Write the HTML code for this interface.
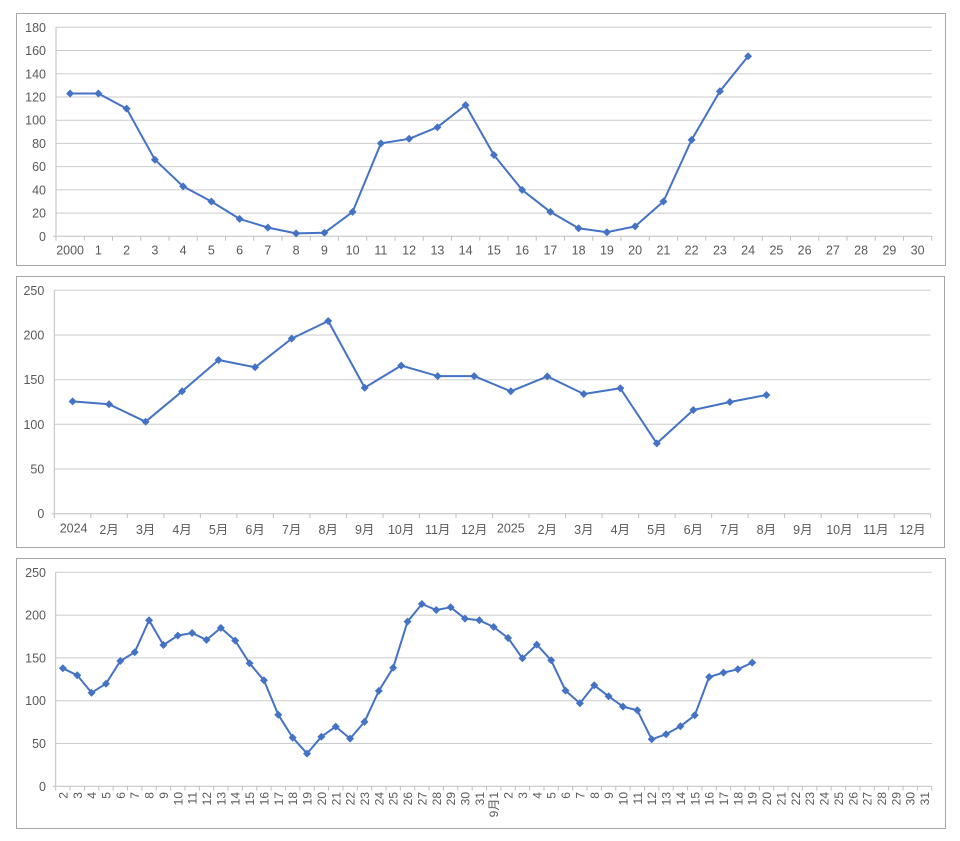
<!DOCTYPE html>
<html><head><meta charset="utf-8"><style>
html,body{margin:0;padding:0;background:#fff;}
svg{display:block;}
text{font-family:"Liberation Sans","Noto Sans CJK SC",sans-serif;fill:#595959;}
</style></head><body>
<svg width="960" height="841" viewBox="0 0 960 841" xmlns="http://www.w3.org/2000/svg">
<defs><path id="d" d="M0,-4L4,0L0,4L-4,0Z" fill="#4472C4"/></defs>
<rect x="0" y="0" width="960" height="841" fill="#fff"/>

<!-- ============ CHART 1 ============ -->
<rect x="16.5" y="13.5" width="929" height="252" fill="#fff" stroke="#a6a6a6" stroke-width="1"/>
<g stroke="#cbcbcb" stroke-width="1">
<line x1="56" y1="213.1" x2="931.7" y2="213.1"/><line x1="56" y1="189.9" x2="931.7" y2="189.9"/>
<line x1="56" y1="166.6" x2="931.7" y2="166.6"/><line x1="56" y1="143.4" x2="931.7" y2="143.4"/>
<line x1="56" y1="120.2" x2="931.7" y2="120.2"/><line x1="56" y1="97.0" x2="931.7" y2="97.0"/>
<line x1="56" y1="73.8" x2="931.7" y2="73.8"/><line x1="56" y1="50.5" x2="931.7" y2="50.5"/>
<line x1="56" y1="27.3" x2="931.7" y2="27.3"/>
</g>
<g stroke="#bfbfbf" stroke-width="1">
<line x1="56" y1="27.3" x2="56" y2="236.3"/>
<line x1="53" y1="236.3" x2="931.7" y2="236.3"/>
<path d="M56,236.3v4.3M84.25,236.3v4.3M112.5,236.3v4.3M140.75,236.3v4.3M169,236.3v4.3M197.25,236.3v4.3M225.5,236.3v4.3M253.75,236.3v4.3M282,236.3v4.3M310.25,236.3v4.3M338.5,236.3v4.3M366.75,236.3v4.3M395,236.3v4.3M423.25,236.3v4.3M451.5,236.3v4.3M479.75,236.3v4.3M508,236.3v4.3M536.25,236.3v4.3M564.5,236.3v4.3M592.75,236.3v4.3M621,236.3v4.3M649.25,236.3v4.3M677.5,236.3v4.3M705.75,236.3v4.3M734,236.3v4.3M762.25,236.3v4.3M790.5,236.3v4.3M818.75,236.3v4.3M847,236.3v4.3M875.25,236.3v4.3M903.5,236.3v4.3M931.75,236.3v4.3" fill="none"/>
</g>
<g font-size="12.5" text-anchor="end">
<text x="46" y="240.8">0</text><text x="46" y="217.6">20</text><text x="46" y="194.4">40</text>
<text x="46" y="171.1">60</text><text x="46" y="147.9">80</text><text x="46" y="124.7">100</text>
<text x="46" y="101.5">120</text><text x="46" y="78.3">140</text><text x="46" y="55.0">160</text>
<text x="46" y="31.8">180</text>
</g>
<g font-size="12.5" text-anchor="middle">
<text x="70.1" y="254.5">2000</text><text x="98.4" y="254.5">1</text><text x="126.6" y="254.5">2</text>
<text x="154.9" y="254.5">3</text><text x="183.1" y="254.5">4</text><text x="211.4" y="254.5">5</text>
<text x="239.6" y="254.5">6</text><text x="267.9" y="254.5">7</text><text x="296.1" y="254.5">8</text>
<text x="324.4" y="254.5">9</text><text x="352.6" y="254.5">10</text><text x="380.9" y="254.5">11</text>
<text x="409.1" y="254.5">12</text><text x="437.4" y="254.5">13</text><text x="465.6" y="254.5">14</text>
<text x="493.9" y="254.5">15</text><text x="522.1" y="254.5">16</text><text x="550.4" y="254.5">17</text>
<text x="578.6" y="254.5">18</text><text x="606.9" y="254.5">19</text><text x="635.1" y="254.5">20</text>
<text x="663.4" y="254.5">21</text><text x="691.6" y="254.5">22</text><text x="719.9" y="254.5">23</text>
<text x="748.1" y="254.5">24</text><text x="776.4" y="254.5">25</text><text x="804.6" y="254.5">26</text>
<text x="832.9" y="254.5">27</text><text x="861.1" y="254.5">28</text><text x="889.4" y="254.5">29</text>
<text x="917.6" y="254.5">30</text>
</g>
<polyline fill="none" stroke="#4472C4" stroke-width="2" stroke-linejoin="round" points="70.1,93.5 98.4,93.5 126.6,108.6 154.9,159.7 183.1,186.4 211.4,201.5 239.6,218.9 267.9,227.6 296.1,233.4 324.4,232.8 352.6,211.9 380.9,143.4 409.1,138.8 437.4,127.2 465.6,105.1 493.9,155.0 522.1,189.9 550.4,211.9 578.6,228.2 606.9,232.2 635.1,226.4 663.4,201.5 691.6,139.9 719.9,91.2 748.1,56.3"/>
<g>
<use href="#d" x="70.1" y="93.5"/><use href="#d" x="98.4" y="93.5"/><use href="#d" x="126.6" y="108.6"/>
<use href="#d" x="154.9" y="159.7"/><use href="#d" x="183.1" y="186.4"/><use href="#d" x="211.4" y="201.5"/>
<use href="#d" x="239.6" y="218.9"/><use href="#d" x="267.9" y="227.6"/><use href="#d" x="296.1" y="233.4"/>
<use href="#d" x="324.4" y="232.8"/><use href="#d" x="352.6" y="211.9"/><use href="#d" x="380.9" y="143.4"/>
<use href="#d" x="409.1" y="138.8"/><use href="#d" x="437.4" y="127.2"/><use href="#d" x="465.6" y="105.1"/>
<use href="#d" x="493.9" y="155.0"/><use href="#d" x="522.1" y="189.9"/><use href="#d" x="550.4" y="211.9"/>
<use href="#d" x="578.6" y="228.2"/><use href="#d" x="606.9" y="232.2"/><use href="#d" x="635.1" y="226.4"/>
<use href="#d" x="663.4" y="201.5"/><use href="#d" x="691.6" y="139.9"/><use href="#d" x="719.9" y="91.2"/>
<use href="#d" x="748.1" y="56.3"/>
</g>

<!-- ============ CHART 2 ============ -->
<rect x="16.5" y="276.5" width="928" height="271" fill="#fff" stroke="#a6a6a6" stroke-width="1"/>
<g stroke="#cbcbcb" stroke-width="1">
<line x1="54.3" y1="469.0" x2="930.7" y2="469.0"/><line x1="54.3" y1="424.3" x2="930.7" y2="424.3"/>
<line x1="54.3" y1="379.7" x2="930.7" y2="379.7"/><line x1="54.3" y1="335.0" x2="930.7" y2="335.0"/>
<line x1="54.3" y1="290.3" x2="930.7" y2="290.3"/>
</g>
<g stroke="#bfbfbf" stroke-width="1">
<line x1="54.3" y1="290.3" x2="54.3" y2="513.7"/>
<line x1="51.5" y1="513.7" x2="930.7" y2="513.7"/>
<path d="M54.3,513.7v4.3M90.8,513.7v4.3M127.3,513.7v4.3M163.9,513.7v4.3M200.4,513.7v4.3M236.9,513.7v4.3M273.4,513.7v4.3M309.9,513.7v4.3M346.4,513.7v4.3M383.0,513.7v4.3M419.5,513.7v4.3M456.0,513.7v4.3M492.5,513.7v4.3M529.0,513.7v4.3M565.5,513.7v4.3M602.1,513.7v4.3M638.6,513.7v4.3M675.1,513.7v4.3M711.6,513.7v4.3M748.1,513.7v4.3M784.6,513.7v4.3M821.2,513.7v4.3M857.7,513.7v4.3M894.2,513.7v4.3M930.7,513.7v4.3" fill="none"/>
</g>
<g font-size="12.5" text-anchor="end">
<text x="44.3" y="518.2">0</text><text x="44.3" y="473.5">50</text><text x="44.3" y="428.8">100</text>
<text x="44.3" y="384.2">150</text><text x="44.3" y="339.5">200</text><text x="44.3" y="294.8">250</text>
</g>
<g font-size="12.5" text-anchor="middle">
<text x="73.6" y="532.5">2024</text><text x="109.1" y="534">2月</text><text x="145.6" y="534">3月</text>
<text x="182.1" y="534">4月</text><text x="218.6" y="534">5月</text><text x="255.1" y="534">6月</text>
<text x="291.7" y="534">7月</text><text x="328.2" y="534">8月</text><text x="364.7" y="534">9月</text>
<text x="401.2" y="534">10月</text><text x="437.7" y="534">11月</text><text x="474.2" y="534">12月</text>
<text x="510.8" y="532.5">2025</text><text x="547.3" y="534">2月</text><text x="583.8" y="534">3月</text>
<text x="620.3" y="534">4月</text><text x="656.8" y="534">5月</text><text x="693.3" y="534">6月</text>
<text x="729.9" y="534">7月</text><text x="766.4" y="534">8月</text><text x="802.9" y="534">9月</text>
<text x="839.4" y="534">10月</text><text x="875.9" y="534">11月</text><text x="912.4" y="534">12月</text>
</g>
<polyline fill="none" stroke="#4472C4" stroke-width="2" stroke-linejoin="round" points="72.6,401.4 109.1,404.3 145.6,421.7 182.1,391.3 218.6,360.0 255.1,367.3 291.7,338.6 328.2,321.0 364.7,387.7 401.2,365.6 437.7,376.1 474.2,376.1 510.8,391.3 547.3,376.4 583.8,394.0 620.3,388.3 656.8,443.4 693.3,410.0 729.9,402.0 766.4,395.0"/>
<g>
<use href="#d" x="72.6" y="401.4"/><use href="#d" x="109.1" y="404.3"/><use href="#d" x="145.6" y="421.7"/>
<use href="#d" x="182.1" y="391.3"/><use href="#d" x="218.6" y="360.0"/><use href="#d" x="255.1" y="367.3"/>
<use href="#d" x="291.7" y="338.6"/><use href="#d" x="328.2" y="321.0"/><use href="#d" x="364.7" y="387.7"/>
<use href="#d" x="401.2" y="365.6"/><use href="#d" x="437.7" y="376.1"/><use href="#d" x="474.2" y="376.1"/>
<use href="#d" x="510.8" y="391.3"/><use href="#d" x="547.3" y="376.4"/><use href="#d" x="583.8" y="394.0"/>
<use href="#d" x="620.3" y="388.3"/><use href="#d" x="656.8" y="443.4"/><use href="#d" x="693.3" y="410.0"/>
<use href="#d" x="729.9" y="402.0"/><use href="#d" x="766.4" y="395.0"/>
</g>

<!-- ============ CHART 3 ============ -->
<rect x="16.5" y="558.5" width="929" height="270" fill="#fff" stroke="#a6a6a6" stroke-width="1"/>
<g stroke="#cbcbcb" stroke-width="1">
<line x1="55.7" y1="743.5" x2="931.7" y2="743.5"/><line x1="55.7" y1="700.7" x2="931.7" y2="700.7"/>
<line x1="55.7" y1="657.9" x2="931.7" y2="657.9"/><line x1="55.7" y1="615.1" x2="931.7" y2="615.1"/>
<line x1="55.7" y1="572.3" x2="931.7" y2="572.3"/>
</g>
<g stroke="#bfbfbf" stroke-width="1">
<line x1="55.7" y1="572.3" x2="55.7" y2="786.3"/>
<line x1="52.7" y1="786.3" x2="931.7" y2="786.3"/>
<path d="M55.70,786.3v4.3M70.06,786.3v4.3M84.42,786.3v4.3M98.78,786.3v4.3M113.14,786.3v4.3M127.51,786.3v4.3M141.87,786.3v4.3M156.23,786.3v4.3M170.59,786.3v4.3M184.95,786.3v4.3M199.31,786.3v4.3M213.67,786.3v4.3M228.03,786.3v4.3M242.39,786.3v4.3M256.75,786.3v4.3M271.12,786.3v4.3M285.48,786.3v4.3M299.84,786.3v4.3M314.20,786.3v4.3M328.56,786.3v4.3M342.92,786.3v4.3M357.28,786.3v4.3M371.64,786.3v4.3M386.00,786.3v4.3M400.36,786.3v4.3M414.73,786.3v4.3M429.09,786.3v4.3M443.45,786.3v4.3M457.81,786.3v4.3M472.17,786.3v4.3M486.53,786.3v4.3M500.89,786.3v4.3M515.25,786.3v4.3M529.61,786.3v4.3M543.97,786.3v4.3M558.34,786.3v4.3M572.70,786.3v4.3M587.06,786.3v4.3M601.42,786.3v4.3M615.78,786.3v4.3M630.14,786.3v4.3M644.50,786.3v4.3M658.86,786.3v4.3M673.22,786.3v4.3M687.58,786.3v4.3M701.95,786.3v4.3M716.31,786.3v4.3M730.67,786.3v4.3M745.03,786.3v4.3M759.39,786.3v4.3M773.75,786.3v4.3M788.11,786.3v4.3M802.47,786.3v4.3M816.83,786.3v4.3M831.19,786.3v4.3M845.56,786.3v4.3M859.92,786.3v4.3M874.28,786.3v4.3M888.64,786.3v4.3M903.00,786.3v4.3M917.36,786.3v4.3M931.72,786.3v4.3" fill="none"/>
</g>
<g font-size="12.5" text-anchor="end">
<text x="46" y="790.8">0</text><text x="46" y="748.0">50</text><text x="46" y="705.2">100</text>
<text x="46" y="662.4">150</text><text x="46" y="619.6">200</text><text x="46" y="576.8">250</text>
</g>
<g font-size="12" text-anchor="end">
<text transform="translate(67.4,792) rotate(-90)">2</text>
<text transform="translate(81.8,792) rotate(-90)">3</text>
<text transform="translate(96.1,792) rotate(-90)">4</text>
<text transform="translate(110.5,792) rotate(-90)">5</text>
<text transform="translate(124.8,792) rotate(-90)">6</text>
<text transform="translate(139.2,792) rotate(-90)">7</text>
<text transform="translate(153.6,792) rotate(-90)">8</text>
<text transform="translate(167.9,792) rotate(-90)">9</text>
<text transform="translate(182.3,792) rotate(-90)">10</text>
<text transform="translate(196.7,792) rotate(-90)">11</text>
<text transform="translate(211.0,792) rotate(-90)">12</text>
<text transform="translate(225.4,792) rotate(-90)">13</text>
<text transform="translate(239.7,792) rotate(-90)">14</text>
<text transform="translate(254.1,792) rotate(-90)">15</text>
<text transform="translate(268.5,792) rotate(-90)">16</text>
<text transform="translate(282.8,792) rotate(-90)">17</text>
<text transform="translate(297.2,792) rotate(-90)">18</text>
<text transform="translate(311.5,792) rotate(-90)">19</text>
<text transform="translate(325.9,792) rotate(-90)">20</text>
<text transform="translate(340.3,792) rotate(-90)">21</text>
<text transform="translate(354.6,792) rotate(-90)">22</text>
<text transform="translate(369.0,792) rotate(-90)">23</text>
<text transform="translate(383.3,792) rotate(-90)">24</text>
<text transform="translate(397.7,792) rotate(-90)">25</text>
<text transform="translate(412.1,792) rotate(-90)">26</text>
<text transform="translate(426.4,792) rotate(-90)">27</text>
<text transform="translate(440.8,792) rotate(-90)">28</text>
<text transform="translate(455.2,792) rotate(-90)">29</text>
<text transform="translate(469.5,792) rotate(-90)">30</text>
<text transform="translate(483.9,792) rotate(-90)">31</text>
<text transform="translate(498.2,792) rotate(-90)">9月1</text>
<text transform="translate(512.6,792) rotate(-90)">2</text>
<text transform="translate(527.0,792) rotate(-90)">3</text>
<text transform="translate(541.3,792) rotate(-90)">4</text>
<text transform="translate(555.7,792) rotate(-90)">5</text>
<text transform="translate(570.0,792) rotate(-90)">6</text>
<text transform="translate(584.4,792) rotate(-90)">7</text>
<text transform="translate(598.8,792) rotate(-90)">8</text>
<text transform="translate(613.1,792) rotate(-90)">9</text>
<text transform="translate(627.5,792) rotate(-90)">10</text>
<text transform="translate(641.8,792) rotate(-90)">11</text>
<text transform="translate(656.2,792) rotate(-90)">12</text>
<text transform="translate(670.6,792) rotate(-90)">13</text>
<text transform="translate(684.9,792) rotate(-90)">14</text>
<text transform="translate(699.3,792) rotate(-90)">15</text>
<text transform="translate(713.7,792) rotate(-90)">16</text>
<text transform="translate(728.0,792) rotate(-90)">17</text>
<text transform="translate(742.4,792) rotate(-90)">18</text>
<text transform="translate(756.7,792) rotate(-90)">19</text>
<text transform="translate(771.1,792) rotate(-90)">20</text>
<text transform="translate(785.5,792) rotate(-90)">21</text>
<text transform="translate(799.8,792) rotate(-90)">22</text>
<text transform="translate(814.2,792) rotate(-90)">23</text>
<text transform="translate(828.5,792) rotate(-90)">24</text>
<text transform="translate(842.9,792) rotate(-90)">25</text>
<text transform="translate(857.3,792) rotate(-90)">26</text>
<text transform="translate(871.6,792) rotate(-90)">27</text>
<text transform="translate(886.0,792) rotate(-90)">28</text>
<text transform="translate(900.3,792) rotate(-90)">29</text>
<text transform="translate(914.7,792) rotate(-90)">30</text>
<text transform="translate(929.1,792) rotate(-90)">31</text>
</g>
<polyline fill="none" stroke="#4472C4" stroke-width="2" stroke-linejoin="round" points="62.88,668.3 77.24,675.3 91.60,692.7 105.96,683.7 120.32,661.0 134.69,652.3 149.05,620.3 163.41,645.0 177.77,635.6 192.13,633.0 206.49,639.9 220.85,627.9 235.21,640.6 249.57,663.3 263.93,680.3 278.30,714.7 292.66,737.6 307.02,753.6 321.38,736.7 335.74,726.6 350.10,738.6 364.46,721.9 378.82,690.9 393.18,667.7 407.54,621.6 421.91,604.0 436.27,610.0 450.63,607.3 464.99,618.6 479.35,620.3 493.71,627.0 508.07,638.0 522.43,658.3 536.79,644.6 551.15,660.3 565.52,690.6 579.88,703.3 594.24,685.3 608.60,696.3 622.96,706.6 637.32,710.3 651.68,739.3 666.04,734.3 680.40,726.3 694.76,715.3 709.12,677.0 723.49,672.6 737.85,669.3 752.21,662.6"/>
<g>
<use href="#d" x="62.88" y="668.3"/><use href="#d" x="77.24" y="675.3"/><use href="#d" x="91.60" y="692.7"/>
<use href="#d" x="105.96" y="683.7"/><use href="#d" x="120.32" y="661.0"/><use href="#d" x="134.69" y="652.3"/>
<use href="#d" x="149.05" y="620.3"/><use href="#d" x="163.41" y="645.0"/><use href="#d" x="177.77" y="635.6"/>
<use href="#d" x="192.13" y="633.0"/><use href="#d" x="206.49" y="639.9"/><use href="#d" x="220.85" y="627.9"/>
<use href="#d" x="235.21" y="640.6"/><use href="#d" x="249.57" y="663.3"/><use href="#d" x="263.93" y="680.3"/>
<use href="#d" x="278.30" y="714.7"/><use href="#d" x="292.66" y="737.6"/><use href="#d" x="307.02" y="753.6"/>
<use href="#d" x="321.38" y="736.7"/><use href="#d" x="335.74" y="726.6"/><use href="#d" x="350.10" y="738.6"/>
<use href="#d" x="364.46" y="721.9"/><use href="#d" x="378.82" y="690.9"/><use href="#d" x="393.18" y="667.7"/>
<use href="#d" x="407.54" y="621.6"/><use href="#d" x="421.91" y="604.0"/><use href="#d" x="436.27" y="610.0"/>
<use href="#d" x="450.63" y="607.3"/><use href="#d" x="464.99" y="618.6"/><use href="#d" x="479.35" y="620.3"/>
<use href="#d" x="493.71" y="627.0"/><use href="#d" x="508.07" y="638.0"/><use href="#d" x="522.43" y="658.3"/>
<use href="#d" x="536.79" y="644.6"/><use href="#d" x="551.15" y="660.3"/><use href="#d" x="565.52" y="690.6"/>
<use href="#d" x="579.88" y="703.3"/><use href="#d" x="594.24" y="685.3"/><use href="#d" x="608.60" y="696.3"/>
<use href="#d" x="622.96" y="706.6"/><use href="#d" x="637.32" y="710.3"/><use href="#d" x="651.68" y="739.3"/>
<use href="#d" x="666.04" y="734.3"/><use href="#d" x="680.40" y="726.3"/><use href="#d" x="694.76" y="715.3"/>
<use href="#d" x="709.12" y="677.0"/><use href="#d" x="723.49" y="672.6"/><use href="#d" x="737.85" y="669.3"/>
<use href="#d" x="752.21" y="662.6"/>
</g>
</svg>
</body></html>
